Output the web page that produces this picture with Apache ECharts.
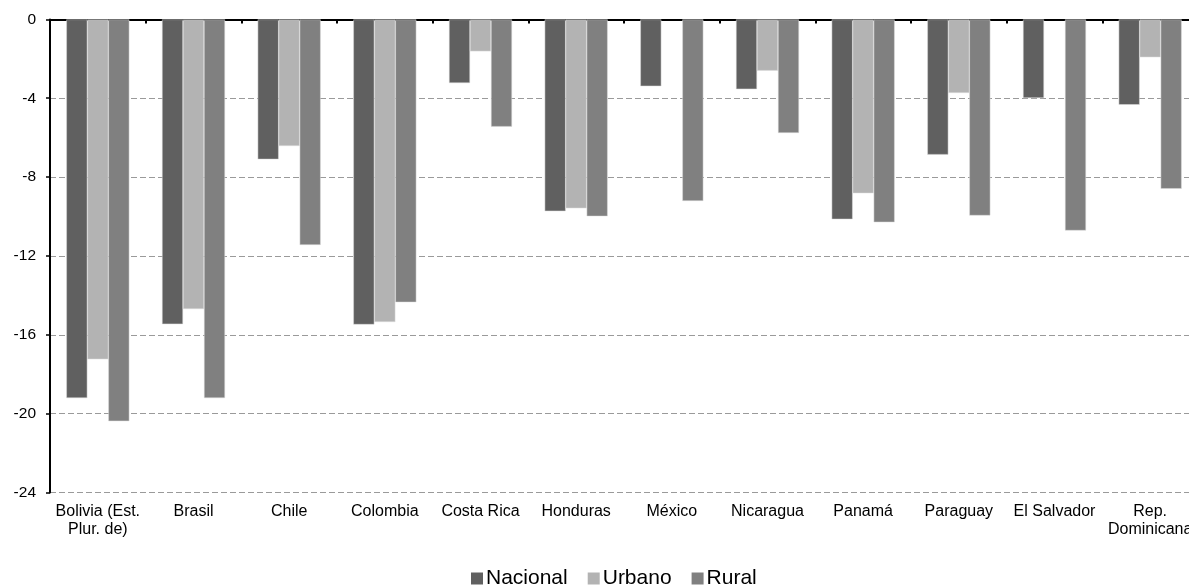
<!DOCTYPE html>
<html>
<head>
<meta charset="utf-8">
<script src="https://cdn.jsdelivr.net/npm/echarts@6/dist/echarts.min.js"></script>
<style>
html,body{margin:0;padding:0;background:#fff;}
#chart{width:1189px;height:586px;}
</style>
</head>
<body>
<div id="chart"></div>
<script>
const categories = ['Bolivia (Est.\nPlur. de)', 'Brasil', 'Chile', 'Colombia', 'Costa Rica', 'Honduras', 'México', 'Nicaragua', 'Panamá', 'Paraguay', 'El Salvador', 'Rep.\nDominicana'];
const nacional = [-19.21, -15.46, -7.10, -15.48, -3.23, -9.73, -3.39, -3.54, -10.14, -6.86, -3.99, -4.33];
const urbano   = [-17.24, -14.69, -6.42, -15.35, -1.62, -9.58, null, -2.60, -8.82, -3.73, null, -1.92];
const rural    = [-20.38, -19.21, -11.44, -14.35, -5.44, -9.99, -9.21, -5.76, -10.29, -9.95, -10.71, -8.59];
const seriesNames = ['Nacional', 'Urbano', 'Rural'];
const yTicks = {min: -24, max: 0, interval: 4};

const colors = ['#606060', '#b3b3b3', '#808080'];
const font = 'Liberation Sans, Arial, sans-serif';
const chart = echarts.init(document.getElementById('chart'));
const mk = (name, data, i) => ({
  name: name, type: 'bar', data: data, xAxisIndex: 0,
  barWidth: 21, barGap: '0%',
  itemStyle: {color: colors[i], borderColor: '#dcdcdc', borderWidth: 0.5},
  emphasis: {disabled: true}
});
chart.setOption({
  animation: false,
  color: colors,
  grid: {left: 50, width: 1148, top: 19.4, height: 473.1, containLabel: false, outerBoundsMode: 'none'},
  legend: {
    data: seriesNames, left: 466, top: 563, itemWidth: 12, itemHeight: 12,
    itemGap: 20, icon: 'rect',
    itemStyle: {borderWidth: 0},
    textStyle: {fontFamily: font, fontSize: 21, color: '#000', padding: [0, 0, 0, -2]}
  },
  xAxis: [{
    type: 'category', data: categories, position: 'top',
    axisLine: {onZero: false, lineStyle: {color: '#000', width: 2}},
    axisTick: {show: true, inside: true, length: 4, lineStyle: {color: '#000', width: 2}},
    axisLabel: {show: false}, splitLine: {show: false}
  }, {
    type: 'category', data: categories, position: 'bottom',
    axisLine: {show: false}, axisTick: {show: false},
    axisLabel: {show: true, interval: 0, margin: 10, fontFamily: font, fontSize: 16, lineHeight: 18, color: '#000'}
  }],
  yAxis: {
    type: 'value', min: yTicks.min, max: yTicks.max, interval: yTicks.interval,
    axisLine: {show: true, lineStyle: {color: '#000', width: 2}},
    axisTick: {show: true, length: 4, lineStyle: {color: '#000', width: 1.5}},
    axisLabel: {margin: 14, fontFamily: font, fontSize: 15.5, color: '#000'},
    splitLine: {show: true, lineStyle: {color: '#9a9a9a', type: [6, 3], width: 1}}
  },
  series: [mk(seriesNames[0], nacional, 0), mk(seriesNames[1], urbano, 1), mk(seriesNames[2], rural, 2)]
});
</script>
</body>
</html>
